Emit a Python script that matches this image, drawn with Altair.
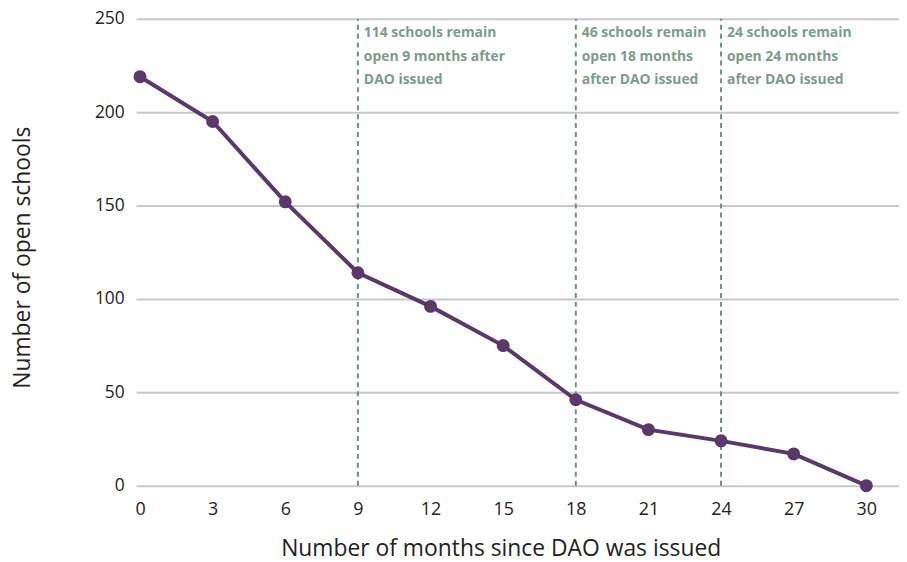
import altair as alt
import pandas as pd

months = [0, 3, 6, 9, 12, 15, 18, 21, 24, 27, 30]
schools = [219, 195, 152, 114, 96, 75, 46, 30, 24, 17, 0]

marker_months = [9, 18, 24]
marker_text = [
    "114 schools remain\nopen 9 months after\nDAO issued",
    "46 schools remain\nopen 18 months\nafter DAO issued",
    "24 schools remain\nopen 24 months\nafter DAO issued",
]

x_ticks = [0, 3, 6, 9, 12, 15, 18, 21, 24, 27, 30]
y_ticks = [0, 50, 100, 150, 200, 250]

FONT = "Open Sans"

df = pd.DataFrame({"month": months, "schools": schools})
mk = pd.DataFrame({"month": marker_months, "text": marker_text,
                   "lo": [0] * 3, "hi": [250] * 3})

xscale = alt.Scale(domain=[-0.16, 31.35], nice=False, zero=False)
yscale = alt.Scale(domain=[0, 250], nice=False)

xaxis = alt.Axis(values=x_ticks, grid=False, domain=False, ticks=False,
                 labelPadding=15, labelFontSize=18, labelColor="#222",
                 title="Number of months since DAO was issued",
                 titleFontSize=23, titleFontWeight="normal", titleColor="#222",
                 titleY=63, titleBaseline="middle", titleX=367,
                 labelFont=FONT, titleFont=FONT)
yaxis = alt.Axis(values=y_ticks, grid=True, gridColor="#c8c8c8", gridWidth=2,
                 domain=False, ticks=False, labelPadding=12, labelFontSize=17.5,
                 labelColor="#222", title="Number of open schools",
                 titleFontSize=23, titleFontWeight="normal", titleColor="#222",
                 titleX=-114, titleBaseline="middle", titleY=240,
                 labelFont=FONT, titleFont=FONT)

base_line = alt.Chart(df).mark_line(color="#5a3869", strokeWidth=4).encode(
    x=alt.X("month:Q", scale=xscale, axis=xaxis),
    y=alt.Y("schools:Q", scale=yscale, axis=yaxis),
)
pts = alt.Chart(df).mark_point(filled=True, color="#5a3869", size=170, opacity=1).encode(
    x=alt.X("month:Q", scale=xscale),
    y=alt.Y("schools:Q", scale=yscale),
)
rules = alt.Chart(mk).mark_rule(color="#6f8f83", strokeWidth=2, strokeDash=[5, 4]).encode(
    x=alt.X("month:Q", scale=xscale),
    y=alt.Y("lo:Q", scale=yscale),
    y2="hi:Q",
)
texts = alt.Chart(mk).mark_text(align="left", baseline="top", dx=6, dy=7,
                                font=FONT, fontSize=14, fontWeight="bold",
                                color="#7a9c8d", lineHeight=24, lineBreak="\n").encode(
    x=alt.X("month:Q", scale=xscale),
    y=alt.Y("hi:Q", scale=yscale),
    text="text:N",
)

chart = alt.layer(rules, base_line, pts, texts).properties(
    width=768, height=470,
    autosize="none",
    padding={"left": 129, "top": 9, "right": 0, "bottom": 78},
).configure_view(stroke=None)

chart.save("out.html", embed_options={"renderer": "svg", "actions": False})
